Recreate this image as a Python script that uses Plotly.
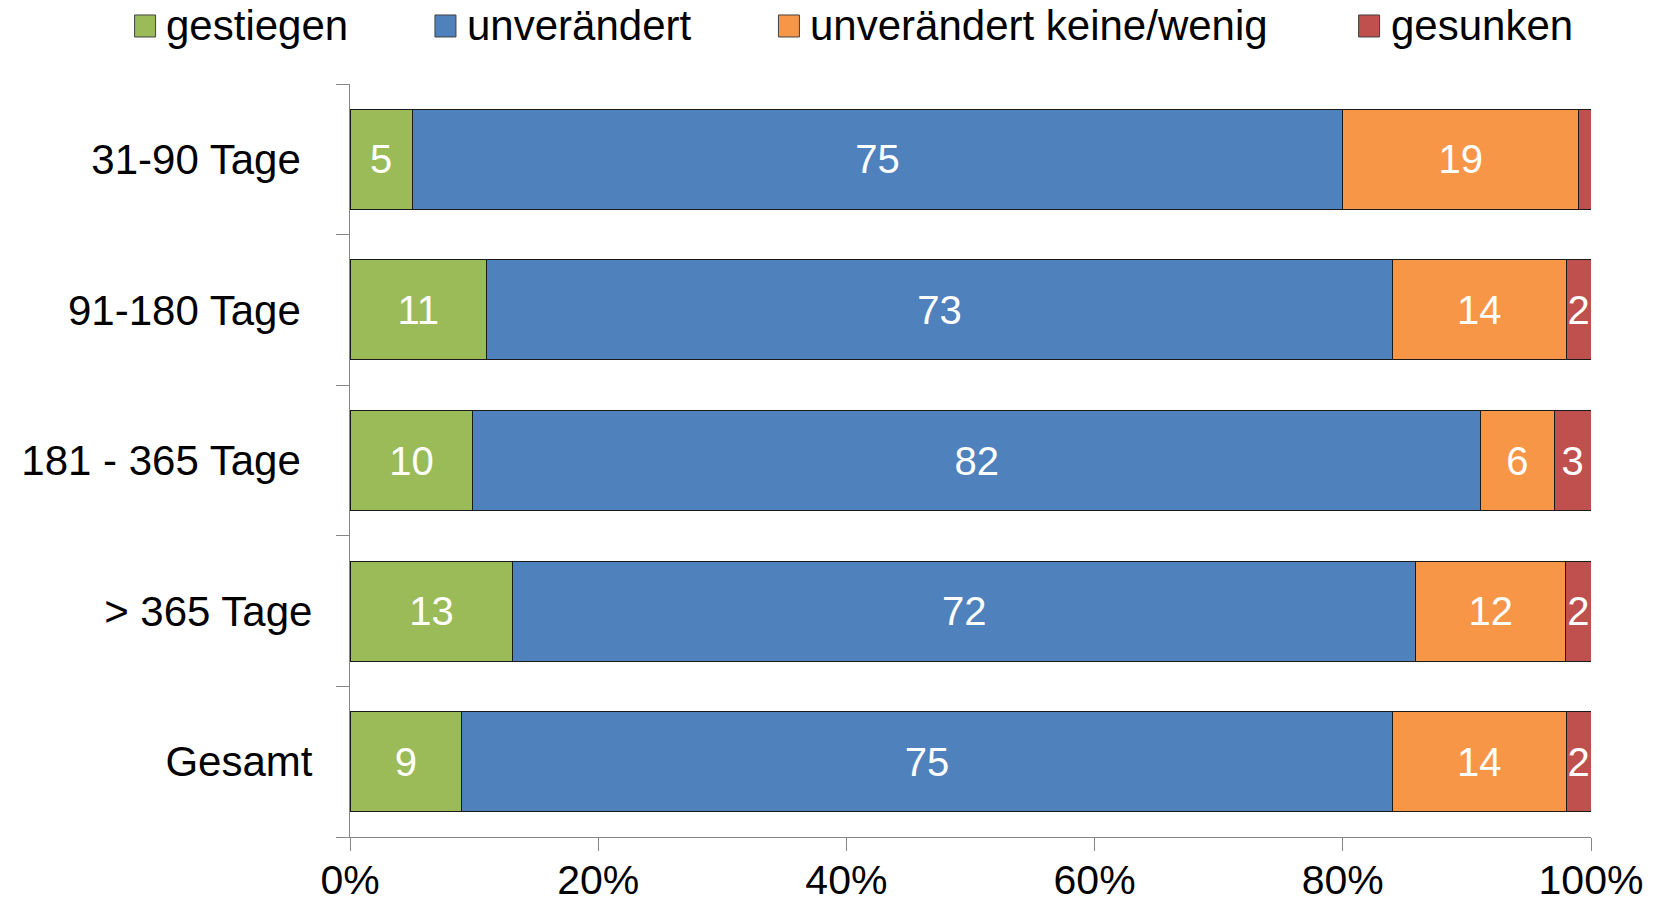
import plotly.graph_objects as go

# Categories (top to bottom) and their axis labels
categories = ["31-90 Tage", "91-180 Tage", "181 - 365 Tage", "> 365 Tage", "Gesamt"]
category_labels = ["31-90 Tage\u00a0", "91-180 Tage\u00a0", "181 - 365 Tage\u00a0", "> 365 Tage", "Gesamt"]

# Series values (percent shares)
series_names = ["gestiegen", "unverändert", "unverändert keine/wenig", "gesunken"]
gestiegen = [5, 11, 10, 13, 9]
unveraendert = [75, 73, 82, 72, 75]
keine_wenig = [19, 14, 6, 12, 14]
gesunken = [1, 2, 3, 2, 2]
gesunken_shown = [False, True, True, True, True]

x_tick_values = [0, 20, 40, 60, 80, 100]
x_tick_labels = ["0%", "20%", "40%", "60%", "80%", "100%"]

colors = ["#9BBB59", "#4F81BD", "#F79646", "#C0504D"]
FONT = "Liberation Sans, Arial, sans-serif"
AXIS_GREY = "#868686"

W, H = 1661, 905
L, R, T, B = 350, 69.5, 84, 68.3

fig = go.Figure()

all_values = [gestiegen, unveraendert, keine_wenig, gesunken]
for name, vals, col in zip(series_names, all_values, colors):
    if name == "gesunken":
        labels = [str(v) if s else "" for v, s in zip(vals, gesunken_shown)]
    else:
        labels = [str(v) for v in vals]
    fig.add_trace(go.Bar(
        name=name,
        y=categories,
        x=vals,
        orientation="h",
        marker=dict(color=col, line=dict(color="#1a1a1a", width=1)),
        text=labels,
        textposition="inside",
        insidetextanchor="middle",
        textangle=0,
        textfont=dict(family=FONT, size=40, color="white"),
        showlegend=False,
        hoverinfo="skip",
    ))

# Legend row drawn above the plot area
plot_w = W - L - R
plot_h = H - T - B


def px_x(px):
    return (px - L) / plot_w


def px_y(py):
    return 1 + (T - py) / plot_h


legend_swatch_left = [134.5, 435, 778.6, 1359]
legend_text_left = [164, 465, 808, 1389]
for name, col, sx, tx in zip(series_names, colors, legend_swatch_left, legend_text_left):
    fig.add_shape(
        type="rect", xref="paper", yref="paper",
        x0=px_x(sx), x1=px_x(sx + 21), y0=px_y(37), y1=px_y(15),
        fillcolor=col, line=dict(color="#404040", width=1),
    )
    fig.add_annotation(
        text=name, xref="paper", yref="paper",
        x=px_x(tx), y=px_y(26), xanchor="left", yanchor="middle",
        showarrow=False, font=dict(family=FONT, size=42, color="black"),
    )

fig.update_layout(
    barmode="stack",
    barnorm="percent",
    bargap=0.335,
    width=W,
    height=H,
    margin=dict(l=L, r=R, t=T, b=B, pad=0, autoexpand=False),
    paper_bgcolor="white",
    plot_bgcolor="white",
    font=dict(family=FONT, size=42, color="black"),
    uniformtext=dict(minsize=40, mode="show"),
    showlegend=False,
)

fig.update_xaxes(
    range=[0, 100],
    tickvals=x_tick_values,
    ticktext=x_tick_labels,
    automargin=False,
    showgrid=False,
    zeroline=False,
    showline=True,
    linecolor=AXIS_GREY,
    linewidth=1.3,
    ticks="outside",
    ticklen=13,
    tickwidth=1.3,
    tickcolor=AXIS_GREY,
    ticklabelstandoff=-6,
    tickfont=dict(family=FONT, size=41, color="black"),
)

fig.update_yaxes(
    categoryorder="array",
    categoryarray=categories,
    tickvals=categories,
    ticktext=category_labels,
    range=[4.5, -0.5],
    automargin=False,
    showgrid=False,
    zeroline=False,
    showline=True,
    linecolor=AXIS_GREY,
    linewidth=1.3,
    ticks="outside",
    tickson="boundaries",
    ticklen=13,
    tickwidth=1.3,
    tickcolor=AXIS_GREY,
    ticklabelstandoff=28,
    tickfont=dict(family=FONT, size=42, color="black"),
)

fig.write_html("out.html")
